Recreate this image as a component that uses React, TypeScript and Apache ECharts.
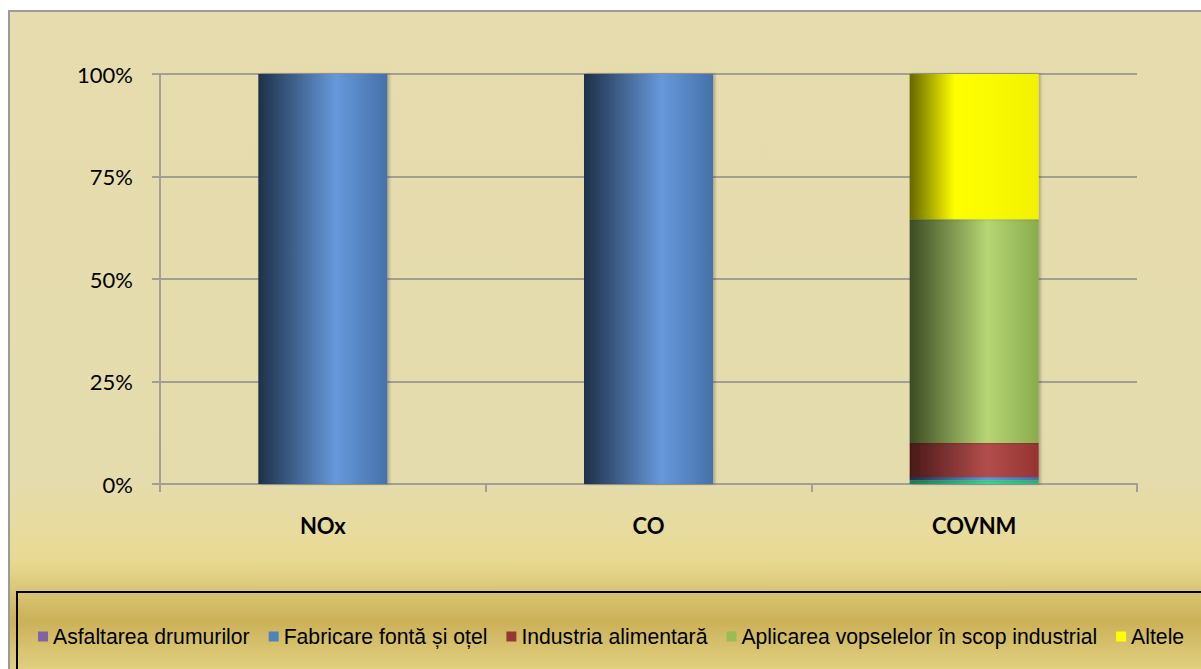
import React, { useEffect, useRef } from "react";
import * as echarts from "echarts";

const categories = ["NOx", "CO", "COVNM"];
const yTicks = [0, 25, 50, 75, 100];
const legendNames = [
  "Asfaltarea drumurilor",
  "Fabricare fontă și oțel",
  "Industria alimentară",
  "Aplicarea vopselelor în scop industrial",
  "Altele",
];
const legendColors = ["#8064A2", "#4F81BD", "#953735", "#9BBB59", "#FFFF00"];
const asfaltarea = [0, 0, 0];
const other = [0, 0, 0.9];
const fabricare = [100, 100, 0.8];
const industria = [0, 0, 8.3];
const aplicarea = [0, 0, 54.6];
const altele = [0, 0, 35.4];

const grad = (c0: string, c1: string, c2: string, mid = 0.6) =>
  new echarts.graphic.LinearGradient(0, 0, 1, 0, [
    { offset: 0, color: c0 },
    { offset: mid, color: c1 },
    { offset: 1, color: c2 },
  ]);

export default function App() {
  const ref = useRef<HTMLDivElement>(null);
  useEffect(() => {
    const chart = echarts.init(ref.current!, null, { renderer: "svg" });
    const barW = 129;
    const mk = (name: string, data: number[], color: any) => ({
      name,
      type: "bar",
      stack: "total",
      data,
      barWidth: barW,
      itemStyle: { color, shadowColor: "rgba(0,0,0,0.25)", shadowBlur: 3, shadowOffsetX: 2 },
      emphasis: { disabled: true },
    });
    chart.setOption({
      animation: false,
      graphic: [
        {
          type: "rect",
          z: -10,
          shape: { x: 9, y: 11, width: 1200, height: 670 },
          style: {
            fill: new echarts.graphic.LinearGradient(0, 0, 0, 1, [
              { offset: 0, color: "#E6DCAE" },
              { offset: 0.7, color: "#E5DCAE" },
              { offset: 0.82, color: "#E8DA93" },
              { offset: 0.91, color: "#CBB158" },
              { offset: 1, color: "#E6D78A" },
            ]),
            stroke: "#9A9A9A",
            lineWidth: 2,
          },
        },
        {
          type: "rect",
          z: -5,
          shape: { x: 17, y: 592, width: 1200, height: 100 },
          style: { fill: "transparent", stroke: "#000000", lineWidth: 2 },
        },
      ],
      grid: { left: 160, right: 64, top: 74, bottom: 185 },
      legend: {
        left: 38,
        top: 626,
        width: 1400,
        padding: 0,
        itemGap: 19,
        itemWidth: 10,
        itemHeight: 10,
        icon: "rect",
        data: legendNames.map((n, i) => ({ name: n, itemStyle: { color: legendColors[i] } })),
        textStyle: { fontSize: 21.2, fontFamily: "Liberation Sans", color: "#000", padding: [0, 0, 0, 0] },
      },
      xAxis: {
        type: "category",
        data: categories,
        axisLine: { lineStyle: { color: "#A39F93", width: 2 } },
        axisTick: { show: true, length: 8, lineStyle: { color: "#A39F93", width: 2 } },
        axisLabel: { fontSize: 22, fontWeight: "bold", fontFamily: "Lato", color: "#000", margin: 30 },
      },
      yAxis: {
        type: "value",
        min: yTicks[0],
        max: yTicks[yTicks.length - 1],
        interval: 25,
        axisLine: { show: true, lineStyle: { color: "#A39F93", width: 2 } },
        axisTick: { show: true, length: 8, lineStyle: { color: "#A39F93", width: 2 } },
        splitLine: { lineStyle: { color: "#A39F93", width: 2 } },
        axisLabel: { fontSize: 22, fontFamily: "Lato", color: "#000", margin: 27, formatter: "{value}%" },
      },
      series: [
        mk("Asfaltarea drumurilor", asfaltarea, "#8064A2"),
        mk("Alte", other, grad("#1E7A55", "#3AD68F", "#2FB37A")),
        mk("Fabricare fontă și oțel", fabricare, grad("#1E3049", "#6699DB", "#4671AA")),
        mk("Industria alimentară", industria, grad("#4A1818", "#B24E4C", "#953332")),
        mk("Aplicarea vopselelor în scop industrial", aplicarea, grad("#3C4B24", "#B6D675", "#8AAB4D")),
        mk("Altele", altele, grad("#666600", "#FFFF00", "#F2F200", 0.35)),
      ],
    });
    return () => chart.dispose();
  }, []);
  return (
    <div
      ref={ref}
      style={{ position: "absolute", left: 0, top: 0, width: 1201, height: 669, background: "#FFFFFF" }}
    />
  );
}
